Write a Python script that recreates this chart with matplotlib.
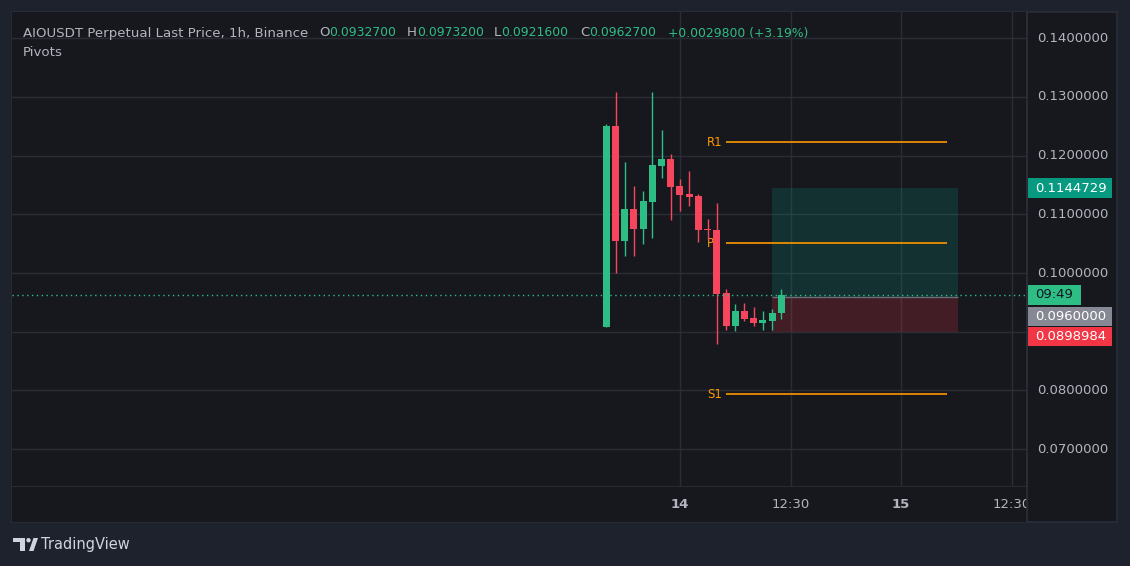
import matplotlib
matplotlib.use('Agg')
import matplotlib.pyplot as plt
from matplotlib.patches import Rectangle, Polygon, Ellipse
import numpy as np

# figure size in pixels
W, H = 1130, 566

# candle data, 1h bars
opens = [0.09087, 0.12506, 0.10552, 0.11092, 0.10756, 0.11216, 0.11830, 0.11944, 0.11484, 0.11348,
         0.11313, 0.10746, 0.10734, 0.09661, 0.09104, 0.09354, 0.09235, 0.09155, 0.09189, 0.09327]
highs = [0.12540, 0.13085, 0.11893, 0.11484, 0.11399, 0.13085, 0.12438, 0.12029, 0.11603, 0.11739,
         0.11347, 0.10922, 0.11194, 0.09729, 0.09474, 0.09491, 0.09422, 0.09354, 0.09388, 0.09732]
lows = [0.09087, 0.10007, 0.10296, 0.10296, 0.10501, 0.10603, 0.11625, 0.10910, 0.11058, 0.11148,
        0.10535, 0.10564, 0.08797, 0.09036, 0.09019, 0.09189, 0.09104, 0.09036, 0.09036, 0.09216]
closes = [0.12506, 0.10552, 0.11092, 0.10756, 0.11228, 0.11842, 0.11944, 0.11472, 0.11336, 0.11302,
          0.10739, 0.10740, 0.09649, 0.09104, 0.09354, 0.09223, 0.09155, 0.09201, 0.09320, 0.09627]

# pivots
pivot_names = ['R1', 'P', 'S1']
pivot_levels = [0.12228, 0.10508, 0.07935]
pivot_start, pivot_end = 13, 37

# long position tool
pos_entry = 0.0960000
pos_target = 0.1144729
pos_stop = 0.0898984
pos_start, pos_end = 18, 38.15

# axes
price_grid = [0.07, 0.08, 0.09, 0.10, 0.11, 0.12, 0.13, 0.14]
price_labels = [0.07, 0.08, 0.10, 0.11, 0.12, 0.13, 0.14]   # 0.09 hidden under the tags
time_ticks = [8, 20, 32, 44]
time_labels = ['14', '12:30', '15', '12:30']
time_bold = [True, False, True, False]

header_name = 'AIOUSDT Perpetual Last Price, 1h, Binance'
ohlc_keys = ['O', 'H', 'L', 'C']
ohlc_vals = ['0.0932700', '0.0973200', '0.0921600', '0.0962700']
change_txt = '+0.0029800 (+3.19%)'
countdown = '09:49'

OUTER = '#1e222d'
PANEL = '#17181e'
GRID = '#2a2d35'
TEXT = '#b2b5be'
UP = '#2ebd85'
DOWN = '#f6465d'
ORANGE = '#ff9800'
FONT = 'DejaVu Sans'
HDR_FS = 9.6
VAL_FS = 8.9


def fx(px):
    return px / W


def fy(py):
    return 1 - py / H


def fbox(x0, y0, x1, y1):
    # pixel box (top-left origin) -> figure rect
    return [fx(x0), fy(y1), (x1 - x0) / W, (y1 - y0) / H]


fig = plt.figure(figsize=(W / 100, H / 100), dpi=100, facecolor=OUTER)

# chart panel
panel = Rectangle((fx(12), fy(521.5)), (1117 - 12) / W, (521.5 - 12) / H, transform=fig.transFigure,
                  facecolor=PANEL, edgecolor='#2a2e39', linewidth=1.2, zorder=0)
fig.add_artist(panel)

ax = fig.add_axes(fbox(12, 12, 1027.3, 487.3))
ax.set_facecolor(PANEL)
xmin, xmax = -64.53, 45.71
ymin, ymax = 0.063509, 0.144480
ax.set_xlim(xmin, xmax)
ax.set_ylim(ymin, ymax)
for s in ['top', 'left']:
    ax.spines[s].set_visible(False)
for s in ['right', 'bottom']:
    ax.spines[s].set_color('#2a2e39')
    ax.spines[s].set_linewidth(1.2)
ax.set_xticks([])
ax.set_yticks([])

# grid
for p in price_grid:
    ax.axhline(p, color=GRID, lw=1, zorder=1)
for t in time_ticks:
    ax.axvline(t, color=GRID, lw=1, zorder=1)

# position tool
ax.add_patch(Rectangle((pos_start, pos_entry), pos_end - pos_start, pos_target - pos_entry,
                       facecolor='#089981', alpha=0.2, lw=0, zorder=2))
ax.add_patch(Rectangle((pos_start, pos_stop), pos_end - pos_start, pos_entry - pos_stop,
                       facecolor='#f23645', alpha=0.2, lw=0, zorder=2))
ax.hlines(pos_entry, pos_start, pos_end, color='#6b6e78', lw=1, zorder=2)

# pivots
for name, lvl in zip(pivot_names, pivot_levels):
    ax.hlines(lvl, pivot_start, pivot_end, color=ORANGE, lw=1.2, zorder=3)
    ax.text(10.95, lvl, name, color=ORANGE, fontsize=8.5, family=FONT, ha='left', va='center', zorder=3)

# candles
o = np.array(opens)
h = np.array(highs)
l = np.array(lows)
c = np.array(closes)
x = np.arange(len(o))
cols = [UP if cc >= oo else DOWN for oo, cc in zip(o, c)]
ax.vlines(x, l, h, colors=cols, lw=1, zorder=4)
body_lo = np.minimum(o, c)
body_h = np.maximum(np.abs(c - o), 0.00018)
ax.bar(x, body_h, bottom=body_lo, width=0.76, color=cols, lw=0, zorder=5)

# last price dotted line
ax.axhline(closes[-1], color=UP, lw=1, ls=(0, (1, 2.5)), zorder=6)

# time axis
tax = fig.add_axes(fbox(12, 487.3, 1027.3, 521.5))
tax.set_facecolor(PANEL)
tax.set_xlim(xmin, xmax)
tax.set_ylim(0, 1)
for s in tax.spines.values():
    s.set_visible(False)
tax.set_xticks([])
tax.set_yticks([])
for t, lab, b in zip(time_ticks, time_labels, time_bold):
    tax.text(t, 0.5, lab, color=TEXT, fontsize=9.5, family=FONT, ha='center', va='center',
             fontweight='bold' if b else 'normal', clip_on=True)

# price axis divider line
fig.add_artist(plt.Line2D([fx(1027.3), fx(1027.3)], [fy(12), fy(521.5)], color='#2a2e39', lw=1.2))

# price axis labels
ytr = matplotlib.transforms.blended_transform_factory(fig.transFigure, ax.transData)
for p in price_labels:
    ax.text(fx(1037), p, '%.7f' % p, transform=ytr, color=TEXT, fontsize=9.5, family=FONT,
            ha='left', va='center', clip_on=False)


def price_tag(x0, x1, yc, txt, bg, fg):
    fig.add_artist(Rectangle((fx(x0), fy(yc + 9.7)), (x1 - x0) / W, 19.4 / H, transform=fig.transFigure,
                             facecolor=bg, lw=0, zorder=10))
    fig.text(fx(x0 + 7), fy(yc), txt, color=fg, fontsize=9.5, family=FONT, ha='left', va='center',
             zorder=11)


def price_to_py(p):
    return 12 + (ymax - p) / (ymax - ymin) * (487.3 - 12)


price_tag(1028, 1111.7, price_to_py(pos_target), '%.7f' % pos_target, '#089981', '#ffffff')
price_tag(1028, 1081, price_to_py(closes[-1]), countdown, UP, '#131722')
price_tag(1028, 1111.7, 316.2, '%.7f' % pos_entry, '#868993', '#ffffff')
price_tag(1028, 1111.7, 336.2, '%.7f' % pos_stop, '#f23645', '#ffffff')

# header
fig.text(fx(23), fy(33), header_name, color=TEXT, fontsize=HDR_FS, family=FONT, ha='left', va='center')
fig.canvas.draw()
renderer = fig.canvas.get_renderer()
key_x = [319, 407, 494, 580]
for k, v, kx in zip(ohlc_keys, ohlc_vals, key_x):
    tk = fig.text(fx(kx), fy(33), k, color=TEXT, fontsize=HDR_FS, family=FONT, ha='left', va='center')
    bb = tk.get_window_extent(renderer)
    fig.text(bb.x1 / W, fy(33), v, color=UP, fontsize=VAL_FS, family=FONT, ha='left', va='center')
fig.text(fx(668), fy(33), change_txt, color=UP, fontsize=VAL_FS, family=FONT, ha='left', va='center')
fig.text(fx(23), fy(53), 'Pivots', color=TEXT, fontsize=HDR_FS, family=FONT, ha='left', va='center')

# TradingView logo
LOGO = '#d1d4dc'
fig.add_artist(Rectangle((fx(13), fy(542)), 12 / W, 4 / H, transform=fig.transFigure, facecolor=LOGO, lw=0))
fig.add_artist(Rectangle((fx(20), fy(551)), 5 / W, 13 / H, transform=fig.transFigure, facecolor=LOGO, lw=0))
fig.add_artist(Ellipse((fx(28.5), fy(540.2)), 4.4 / W, 4.4 / H, transform=fig.transFigure, facecolor=LOGO, lw=0))
fig.add_artist(Polygon([(fx(29), fy(551)), (fx(33.5), fy(551)), (fx(38), fy(538)), (fx(33.5), fy(538))],
                       closed=True, transform=fig.transFigure, facecolor=LOGO, lw=0))
fig.text(fx(41), fy(545), 'TradingView', color=LOGO, fontsize=10.5, family=FONT, ha='left', va='center')

fig.savefig('out.png', dpi=100, facecolor=OUTER)
